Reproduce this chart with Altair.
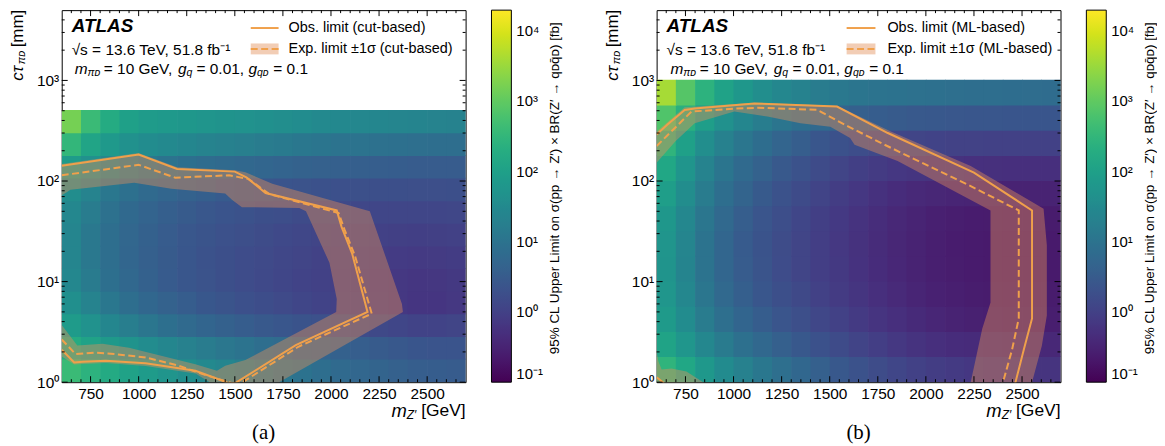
import altair as alt
import pandas as pd

FONT = "Liberation Sans"
SERIF = "Liberation Serif"
ORANGE = "#f0a04b"
BAND = "#e3905a"
W, H = 406, 374

# ---------------- data ----------------
x_edges = [600, 700, 800, 900, 1000, 1100, 1200, 1300, 1400, 1500, 1600,
           1700, 1800, 1900, 2000, 2100, 2200, 2300, 2400, 2500, 2600, 2700]
ya_edges = [1, 1.679, 2.818, 4.732, 7.943, 13.34, 22.39, 37.58, 63.10, 105.9, 177.8, 298.5, 500]
yb_edges = [1, 1.778, 3.162, 5.623, 10, 17.78, 31.62, 56.23, 100, 177.8, 316.2, 562.3, 1000]

# log10 of the 95% CL upper limit [fb]; rows bottom -> top, columns 600..2700 GeV
lim_a = [
    [2.6, 2.4, 2.22, 2.05, 1.9, 1.76, 1.62, 1.5, 1.39, 1.28, 1.18, 1.08, 0.98, 0.89, 0.81, 0.74, 0.67, 0.61, 0.56, 0.53, 0.52],
    [2.25, 2.05, 1.86, 1.7, 1.55, 1.42, 1.3, 1.19, 1.09, 1.0, 0.91, 0.83, 0.75, 0.68, 0.62, 0.56, 0.5, 0.45, 0.4, 0.38, 0.37],
    [1.9, 1.68, 1.42, 1.23, 1.07, 0.93, 0.81, 0.71, 0.62, 0.54, 0.47, 0.41, 0.35, 0.3, 0.25, 0.2, 0.14, 0.09, 0.05, 0.05, 0.07],
    [1.62, 1.36, 1.1, 0.9, 0.75, 0.63, 0.53, 0.44, 0.36, 0.29, 0.22, 0.16, 0.1, 0.05, 0.0, -0.05, -0.1, -0.15, -0.19, -0.19, -0.15],
    [1.45, 1.18, 0.93, 0.76, 0.62, 0.51, 0.42, 0.34, 0.27, 0.21, 0.15, 0.1, 0.05, 0.01, -0.03, -0.07, -0.11, -0.15, -0.18, -0.17, -0.14],
    [1.4, 1.13, 0.89, 0.73, 0.6, 0.5, 0.41, 0.33, 0.27, 0.21, 0.16, 0.11, 0.07, 0.03, 0.0, -0.03, -0.06, -0.09, -0.11, -0.1, -0.08],
    [1.4, 1.13, 0.9, 0.74, 0.62, 0.52, 0.43, 0.36, 0.3, 0.25, 0.2, 0.15, 0.11, 0.08, 0.05, 0.03, 0.01, -0.01, -0.02, -0.01, 0.01],
    [1.45, 1.2, 0.96, 0.8, 0.68, 0.58, 0.5, 0.43, 0.37, 0.32, 0.27, 0.23, 0.19, 0.16, 0.14, 0.12, 0.1, 0.09, 0.09, 0.09, 0.11],
    [1.58, 1.34, 1.1, 0.94, 0.82, 0.72, 0.64, 0.57, 0.51, 0.46, 0.41, 0.37, 0.34, 0.31, 0.29, 0.28, 0.27, 0.26, 0.25, 0.25, 0.26],
    [1.9, 1.66, 1.44, 1.24, 1.11, 1.01, 0.93, 0.86, 0.81, 0.76, 0.72, 0.68, 0.64, 0.61, 0.59, 0.57, 0.55, 0.53, 0.52, 0.52, 0.52],
    [2.5, 2.1, 1.85, 1.65, 1.55, 1.5, 1.42, 1.35, 1.3, 1.25, 1.2, 1.15, 1.1, 1.05, 1.02, 1.0, 0.97, 0.95, 0.92, 0.9, 0.9],
    [3.2, 2.6, 2.25, 2.0, 1.9, 1.85, 1.8, 1.75, 1.7, 1.67, 1.63, 1.6, 1.55, 1.5, 1.48, 1.45, 1.42, 1.4, 1.37, 1.35, 1.33],
]
lim_b = [
    [2.45, 2.15, 1.82, 1.54, 1.3, 1.1, 0.92, 0.75, 0.6, 0.45, 0.32, 0.2, 0.09, 0.0, -0.07, -0.12, -0.16, -0.19, -0.21, -0.22, -0.22],
    [2.08, 1.78, 1.45, 1.17, 0.95, 0.77, 0.6, 0.45, 0.31, 0.18, 0.06, -0.05, -0.15, -0.23, -0.29, -0.34, -0.37, -0.39, -0.41, -0.42, -0.42],
    [1.88, 1.55, 1.2, 0.92, 0.71, 0.54, 0.39, 0.25, 0.12, 0.0, -0.11, -0.21, -0.3, -0.38, -0.45, -0.5, -0.54, -0.57, -0.59, -0.59, -0.58],
    [1.78, 1.44, 1.08, 0.78, 0.58, 0.42, 0.27, 0.14, 0.01, -0.1, -0.2, -0.3, -0.39, -0.47, -0.53, -0.57, -0.6, -0.62, -0.63, -0.63, -0.62],
    [1.72, 1.38, 1.02, 0.72, 0.52, 0.36, 0.21, 0.08, -0.04, -0.14, -0.24, -0.34, -0.43, -0.5, -0.56, -0.6, -0.63, -0.65, -0.66, -0.66, -0.65],
    [1.74, 1.39, 1.02, 0.72, 0.51, 0.35, 0.2, 0.07, -0.05, -0.15, -0.25, -0.35, -0.44, -0.51, -0.57, -0.61, -0.63, -0.65, -0.66, -0.66, -0.65],
    [1.8, 1.45, 1.08, 0.78, 0.56, 0.39, 0.24, 0.1, -0.02, -0.13, -0.23, -0.33, -0.42, -0.49, -0.55, -0.59, -0.61, -0.62, -0.63, -0.63, -0.62],
    [1.95, 1.58, 1.2, 0.9, 0.67, 0.49, 0.33, 0.19, 0.06, -0.06, -0.16, -0.26, -0.34, -0.4, -0.44, -0.47, -0.49, -0.5, -0.51, -0.51, -0.5],
    [2.15, 1.75, 1.35, 1.05, 0.82, 0.63, 0.47, 0.32, 0.19, 0.08, -0.02, -0.1, -0.16, -0.2, -0.23, -0.25, -0.27, -0.28, -0.29, -0.29, -0.29],
    [2.45, 2.0, 1.6, 1.3, 1.08, 0.88, 0.7, 0.55, 0.42, 0.31, 0.22, 0.15, 0.1, 0.07, 0.05, 0.03, 0.02, 0.01, 0.0, 0.0, 0.0],
    [2.85, 2.35, 1.95, 1.65, 1.42, 1.22, 1.05, 0.9, 0.78, 0.68, 0.6, 0.54, 0.5, 0.47, 0.45, 0.43, 0.42, 0.41, 0.4, 0.4, 0.4],
    [3.6, 2.9, 2.4, 2.05, 1.8, 1.6, 1.45, 1.32, 1.2, 1.12, 1.06, 1.02, 0.99, 0.96, 0.94, 0.92, 0.9, 0.89, 0.88, 0.87, 0.86],
]

# (a) cut-based contours
obs_a_x = [600, 1000, 1200, 1500, 1560, 1660, 2030, 2055, 2110, 2190, 1817, 1510, 1460]
obs_a_y = [142, 183, 132, 124, 109, 76, 51, 35, 19, 5.0, 2.34, 1.0, 0.93]
obs_a2_x = [600, 665, 708, 829, 1036, 1295, 1433, 1470]
obs_a2_y = [2.1, 1.57, 1.6, 1.63, 1.54, 1.3, 1.04, 0.97]
exp_a_x = [600, 1000, 1190, 1470, 1570, 1680, 2040, 2070, 2125, 2212, 1830, 1540, 1500]
exp_a_y = [114, 145, 108, 114, 105, 74, 48, 33, 18, 4.8, 2.25, 1.0, 0.93]
exp_a2_x = [600, 672, 775, 879, 1036, 1208, 1329, 1467, 1500]
exp_a2_y = [2.66, 1.9, 1.97, 1.9, 1.76, 1.46, 1.21, 1.0, 0.96]
band_a_x = [600, 1000, 1200, 1500, 1555, 1695, 2202, 2369, 2374, 1730,
            1370, 1295, 1036, 829, 708, 665, 600,
            600, 681, 812, 950, 1122, 1295, 1407, 1450, 1555,
            2027, 2030, 1992, 1870, 1835, 1537, 1485, 1450, 1170, 977, 645, 620, 600]
band_a_y = [148, 190, 137, 128, 122, 94, 50, 6.0, 5.0, 1.0,
            1.0, 1.22, 1.45, 1.55, 1.52, 1.5, 1.8,
            3.7, 2.32, 2.41, 2.2, 1.82, 1.51, 1.3, 1.46, 1.66,
            5.0, 6.7, 15.4, 50, 54, 55, 65, 75, 84, 96, 82, 76, 72]

# (b) ML-based contours
obs_b_x = [600, 655, 746, 798, 1108, 1538, 1802, 2250, 2552, 2552, 2509, 2466, 2455]
obs_b_y = [290, 363, 508, 525, 590, 550, 300, 121, 51, 4.3, 2.1, 1.0, 0.9]
exp_b_x = [600, 650, 781, 1004, 1125, 1434, 1595, 1784, 2233, 2483, 2483, 2448, 2401, 2390]
exp_b_y = [223, 277, 490, 525, 535, 510, 350, 230, 89, 51, 4.3, 2.1, 1.0, 0.9]
band_b_x = [600, 746, 1108, 1538, 1818, 2233, 2612, 2629, 2629, 2603, 2552,
            2233, 2293, 2336, 2336, 1853, 1629, 1606, 1503, 1348, 1176, 1004, 798, 698, 600]
band_b_y = [310, 540, 600, 560, 310, 141, 53, 23, 4.6, 2.3, 1.0,
            1.0, 3.4, 6.2, 51, 158, 230, 268, 347, 376, 437, 490, 376, 248, 152]
band_b2_x = [600, 600, 610, 626, 677, 755, 842, 850]
band_b2_y = [0.95, 2.0, 1.6, 1.34, 1.37, 1.28, 1.0, 0.95]
obs_b2_x = [600, 632, 640]
obs_b2_y = [1.12, 1.0, 0.96]

# axis ticks
x_major = [750, 1000, 1250, 1500, 1750, 2000, 2250, 2500]
x_minor = [650, 700, 800, 850, 900, 950, 1050, 1100, 1150, 1200, 1300, 1350, 1400, 1450,
           1550, 1600, 1650, 1700, 1800, 1850, 1900, 1950, 2050, 2100, 2150, 2200,
           2300, 2350, 2400, 2450, 2550, 2600, 2650]
y_major = [1, 10, 100, 1000]
y_minor = [2, 3, 4, 5, 6, 7, 8, 9, 20, 30, 40, 50, 60, 70, 80, 90,
           200, 300, 400, 500, 600, 700, 800, 900, 2000, 3000, 4000]
cbar_ticks = [0.1, 1, 10, 100, 1000, 10000]

CB_TITLE = "95% CL Upper Limit on σ(pp → Z′) × BR(Z′ → qᴅq̄ᴅ) [fb]"
Y_LABELS = "datum.value == 1 ? '10⁰' : datum.value == 10 ? '10¹' : datum.value == 100 ? '10²' : '10³'"
C_LABELS = ("datum.value < 0.5 ? '10⁻¹' : datum.value < 5 ? '10⁰' : datum.value < 50 ? '10¹' : "
            "datum.value < 500 ? '10²' : datum.value < 5000 ? '10³' : '10⁴'")


# ---------------- helpers ----------------
def xenc(field):
    return alt.X(field, type="quantitative", title="",
                 scale=alt.Scale(domain=[600, 2700], nice=False, zero=False),
                 axis=alt.Axis(values=x_major, format="d", ticks=False, domain=False, grid=False,
                               labelFontSize=15.5, labelPadding=4, labelFont=FONT,
                               labelColor="black", labelFlush=False))


def yenc(field):
    return alt.Y(field, type="quantitative", title="",
                 scale=alt.Scale(type="log", domain=[1, 5000], nice=False),
                 axis=alt.Axis(values=y_major, labelExpr=Y_LABELS, ticks=False, domain=False,
                               grid=False, labelFontSize=15.5, labelPadding=3, labelFont=FONT,
                               labelColor="black", labelFlush=False))


def one():
    return pd.DataFrame({"k": [0]})


def txt(s, x, y, size, style="normal", weight="normal", angle=0, align="left", font=FONT):
    return alt.Chart(pd.DataFrame({"t": [s]})).mark_text(
        x=x, y=y, fontSize=size, fontStyle=style, fontWeight=weight, angle=angle,
        align=align, baseline="middle", font=font, color="black").encode(text="t:N")


def poly(xs, ys):
    d = pd.DataFrame({"x": xs, "y": ys, "i": list(range(len(xs)))})
    return alt.Chart(d).mark_line(fill=BAND, fillOpacity=0.42, stroke=BAND, strokeOpacity=0,
                                  strokeWidth=0, clip=True).encode(
        x=xenc("x"), y=yenc("y"), order="i:Q")


def curve(xs, ys, dashed=False):
    d = pd.DataFrame({"x": xs, "y": ys, "i": list(range(len(xs)))})
    kw = dict(color=ORANGE, strokeWidth=2, clip=True)
    if dashed:
        kw["strokeDash"] = [7, 3.5]
    return alt.Chart(d).mark_line(**kw).encode(x=xenc("x"), y=yenc("y"), order="i:Q")


def ticks():
    out = []
    for vals, ln in ((x_major, 6), (x_minor, 3)):
        d = pd.DataFrame({"v": vals})
        out.append(alt.Chart(d).mark_rule(color="black", strokeWidth=1).encode(
            x=xenc("v"), y=alt.value(H), y2=alt.value(H - ln)))
        out.append(alt.Chart(d).mark_rule(color="black", strokeWidth=1).encode(
            x=xenc("v"), y=alt.value(0), y2=alt.value(ln)))
    for vals, ln in ((y_major, 6), (y_minor, 3)):
        d = pd.DataFrame({"v": vals})
        out.append(alt.Chart(d).mark_rule(color="black", strokeWidth=1).encode(
            y=yenc("v"), x=alt.value(0), x2=alt.value(ln)))
        out.append(alt.Chart(d).mark_rule(color="black", strokeWidth=1).encode(
            y=yenc("v"), x=alt.value(W), x2=alt.value(W - ln)))
    return out


def heat(lim, yedges):
    rows = []
    for r, row in enumerate(lim):
        for c, v in enumerate(row):
            rows.append({"x0": x_edges[c], "x1": x_edges[c + 1],
                         "y0": yedges[r], "y1": yedges[r + 1], "lg": v})
    df = pd.DataFrame(rows)
    cscale = alt.Scale(type="log", domain=[0.1, 20000], scheme="viridis")
    legend = alt.Legend(
        type="gradient", title=None, orient="right", offset=26, padding=0,
        direction="vertical", gradientLength=H, gradientThickness=20,
        gradientStrokeColor="black", gradientStrokeWidth=1, values=cbar_ticks,
        labelExpr=C_LABELS, labelFontSize=15, labelFont=FONT, labelOffset=5,
        labelColor="black", labelBaseline="middle", labelOverlap=False)
    return alt.Chart(df).transform_calculate(val="pow(10, datum.lg)").mark_rect(
        strokeWidth=0, x2Offset=0.7, y2Offset=-0.7, clip=True).encode(
        x=xenc("x0"), x2=alt.X2("x1"), y=yenc("y0"), y2=alt.Y2("y1"),
        color=alt.Color("val:Q", scale=cscale, legend=legend))


def panel(lim, yedges, polys, solids, dashes, kind, tag, lx0, lx1, ltx, mx):
    layers = [heat(lim, yedges)]
    layers += [poly(px, py) for px, py in polys]
    layers += [curve(cx, cy) for cx, cy in solids]
    layers += [curve(cx, cy, dashed=True) for cx, cy in dashes]
    layers += ticks()
    # in-plot legend
    layers.append(alt.Chart(one()).mark_rule(color=ORANGE, strokeWidth=2).encode(
        x=alt.value(lx0), x2=alt.value(lx1), y=alt.value(18)))
    layers.append(alt.Chart(one()).mark_rect(color=BAND, opacity=0.45).encode(
        x=alt.value(lx0), x2=alt.value(lx1), y=alt.value(33.5), y2=alt.value(44.5)))
    layers.append(alt.Chart(one()).mark_rule(color=ORANGE, strokeWidth=2,
                                              strokeDash=[7, 3.5]).encode(
        x=alt.value(lx0), x2=alt.value(lx1), y=alt.value(39)))
    layers.append(txt(f"Obs. limit ({kind})", ltx, 18, 14.5))
    layers.append(txt(f"Exp. limit ±1σ ({kind})", ltx, 39, 14.5))
    # labels
    layers.append(txt("ATLAS", 10, 16, 19, style="italic", weight="bold"))
    layers.append(txt("√s = 13.6 TeV, 51.8 fb⁻¹", 10, 40, 15.5))
    layers.append(txt("m", mx, 59, 15.5, style="italic"))
    layers.append(txt("πᴅ", mx + 12.9, 63, 10.5, style="italic"))
    layers.append(txt("= 10 GeV,", mx + 29.3, 59, 15.5))
    layers.append(txt("g", mx + 103.8, 59, 15.5, style="italic"))
    layers.append(txt("q", mx + 112.4, 63, 10.5, style="italic"))
    layers.append(txt("= 0.01,", mx + 122.5, 59, 15.5))
    layers.append(txt("g", mx + 174.7, 59, 15.5, style="italic"))
    layers.append(txt("qᴅ", mx + 183.3, 63, 10.5, style="italic"))
    layers.append(txt("= 0.1", mx + 199.7, 59, 15.5))
    # axis titles
    layers.append(txt("cτ", -44, 71, 17, style="italic", angle=270))
    layers.append(txt("πᴅ", -40, 54.3, 11, style="italic", angle=270))
    layers.append(txt("[mm]", -44, 37.4, 17, angle=270))
    layers.append(txt("[GeV]", W, H + 29, 17.5, align="right"))
    layers.append(txt("Z′", W - 49.6, H + 33, 12, style="italic", align="right"))
    layers.append(txt("m", W - 59.2, H + 29, 18.5, style="italic", align="right"))
    layers.append(txt(tag, W / 2, H + 51, 21, align="center", font=SERIF))
    # colour-bar title
    layers.append(txt(CB_TITLE, W + 90, H / 2 - 8, 13.5, angle=270, align="center"))
    return alt.layer(*layers).properties(width=W, height=H)


pa = panel(lim_a, ya_edges,
           [(band_a_x, band_a_y)],
           [(obs_a_x, obs_a_y), (obs_a2_x, obs_a2_y)],
           [(exp_a_x, exp_a_y), (exp_a2_x, exp_a2_y)],
           "cut-based", "(a)", 190, 218, 228, 13)
pb = panel(lim_b, yb_edges,
           [(band_b_x, band_b_y), (band_b2_x, band_b2_y)],
           [(obs_b_x, obs_b_y), (obs_b2_x, obs_b2_y)],
           [(exp_b_x, exp_b_y)],
           "ML-based", "(b)", 191, 220, 232, 14)

chart = alt.hconcat(pa, pb, spacing=40).resolve_scale(color="independent").properties(
    padding={"left": 0, "top": 0, "right": 0, "bottom": 0}).configure_view(
    stroke="black", strokeWidth=1)

chart.save("out.html", embed_options={"renderer": "svg", "actions": False})
